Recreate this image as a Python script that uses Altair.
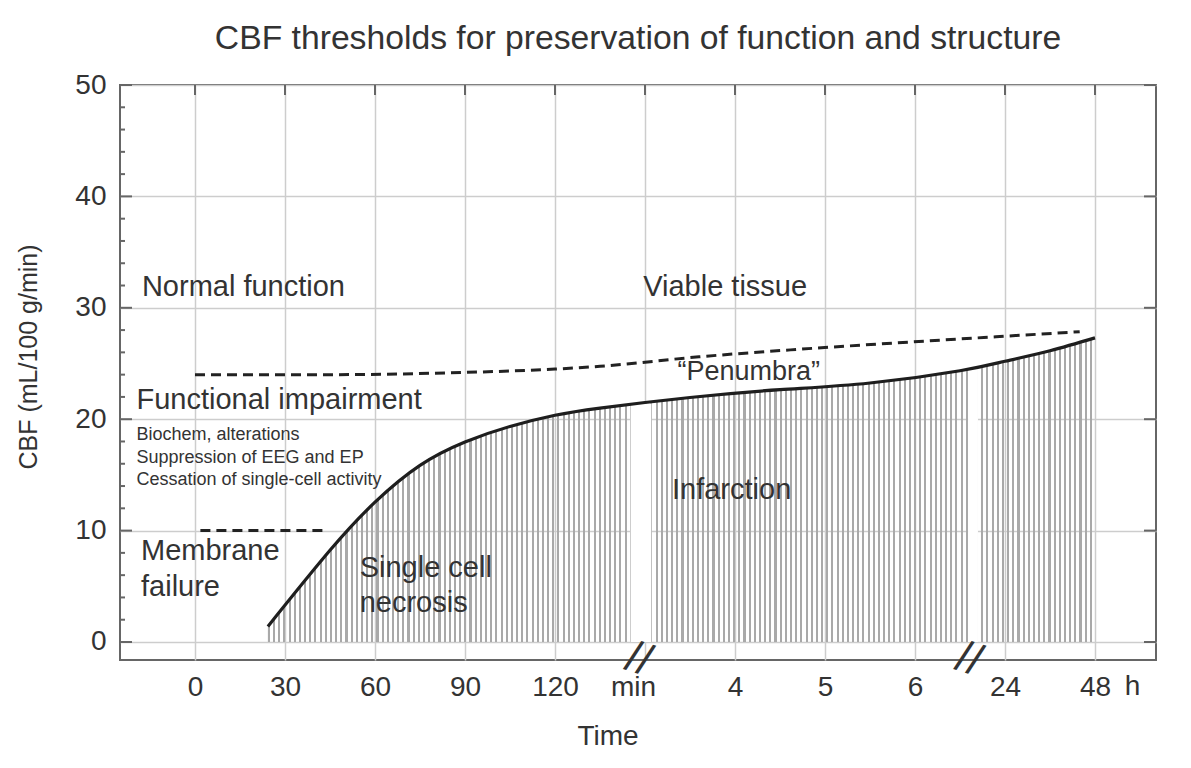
import json
import altair as alt
import pandas as pd

# ---------------- data ----------------
# x axis: equally spaced tick slots (index) and their labels
x_pos = list(range(11))
x_labels = ["0", "30", "60", "90", "120", "min", "4", "5", "6", "24", "48"]
y_ticks_major = [0, 10, 20, 30, 40, 50]
y_ticks_minor = [2, 4, 6, 8, 12, 14, 16, 18, 22, 24, 26, 28, 32, 34, 36, 38, 42, 44, 46, 48]

# solid CBF threshold curve (infarction boundary)
curve_x = [0.81, 1.5, 2.0, 2.5, 3.0, 3.5, 4.0, 4.5, 5.5, 6.5, 7.5, 8.5, 9.0, 9.5, 10.0]
curve_y = [1.4, 8.23, 12.55, 15.85, 17.95, 19.35, 20.35, 21.0, 21.95, 22.65, 23.25, 24.35, 25.2, 26.15, 27.3]

# upper dashed threshold (functional impairment / penumbra)
upper_x = [0.0, 1.5, 3.0, 4.0, 4.5, 5.6, 6.7, 7.8, 8.9, 9.83]
upper_y = [24.0, 24.0, 24.2, 24.5, 24.75, 25.6, 26.27, 26.85, 27.4, 27.85]

# short dashed membrane-failure threshold
membrane_x = [0.06, 1.47]
membrane_y = [10.0, 10.0]

# white breaks in the hatched area (axis breaks)
gap_start = [4.84, 8.59]
gap_end = [5.07, 8.70]
gap_top = [21.4, 24.5]
break_x = [4.93, 8.6]

# annotation texts
ann_text = ["Normal function", "Viable tissue", "Functional impairment",
            "Biochem, alterations", "Suppression of EEG and EP",
            "Cessation of single-cell activity", "Membrane", "failure",
            "Single cell", "necrosis", "Infarction", "\u201cPenumbra\u201d", "h"]
ann_x = [-0.59, 4.98, -0.65, -0.65, -0.65, -0.65, -0.60, -0.60, 1.83, 1.83, 5.30, 5.36, 10.33]
ann_y = [31.06, 31.06, 20.92, 18.13, 16.07, 14.09, 7.36, 4.13, 5.86, 2.72, 12.81, 23.52, -4.77]
ann_size = [29, 29, 29, 18, 18, 18, 29, 29, 29, 29, 29, 27, 28]

# ---------------- styling ----------------
FONT = "Liberation Sans, Arial, Helvetica, sans-serif"
TXT = "#333333"
W, H = 1036, 575
XDOM = [-0.8333, 10.678]
YDOM = [-1.616, 50]
xs = alt.Scale(domain=XDOM, nice=False, zero=False)
ys = alt.Scale(domain=YDOM, nice=False, zero=False)

curve_df = pd.DataFrame({"x": curve_x, "y": curve_y})
upper_df = pd.DataFrame({"x": upper_x, "y": upper_y})
memb_df = pd.DataFrame({"x": membrane_x, "y": membrane_y})
gap_df = pd.DataFrame({"x": gap_start, "x2": gap_end, "y": gap_top})
break_df = pd.DataFrame({"x": break_x, "y": [YDOM[0]] * len(break_x)})
ann_df = pd.DataFrame({"t": ann_text, "x": ann_x, "y": ann_y, "s": ann_size})
ymaj_df = pd.DataFrame({"y": y_ticks_major})
ymin_df = pd.DataFrame({"y": y_ticks_minor})
xt_df = pd.DataFrame({"x": x_pos})

# striped (hatched) fill as a horizontal gradient
N = 160
STRIPE = "#a9a9a9"
CLEAR = "rgba(255,255,255,0)"
stops = []
for k in range(N):
    a, b, c = k / N, (k + 0.4) / N, (k + 1) / N
    stops += [{"offset": a, "color": STRIPE}, {"offset": b, "color": STRIPE},
              {"offset": b, "color": CLEAR}, {"offset": c, "color": CLEAR}]
hatch = {"gradient": "linear", "x1": 0, "x2": 1, "y1": 0, "y2": 0, "stops": stops}

label_expr = json.dumps(x_labels) + "[datum.value]"

x_axis = alt.Axis(values=x_pos, labelExpr=label_expr, labelFontSize=28, labelFont=FONT,
                  labelColor=TXT, labelBaseline="alphabetic", labelPadding=35,
                  labelOverlap=False, labelFlush=False,
                  labelOffset={"condition": {"test": "datum.value == 5", "value": -12}, "value": 0},
                  ticks=False, tickSize=0, domain=False, grid=True, gridColor="#cdcdcd",
                  gridWidth=1.5, title="Time", titleFontSize=28, titleFont=FONT,
                  titleFontWeight="normal", titleColor=TXT, titleX=487.5, titleY=84,
                  titleBaseline="alphabetic")
y_axis = alt.Axis(values=y_ticks_major, labelFontSize=28, labelFont=FONT, labelColor=TXT,
                  labelPadding=14, ticks=False, tickSize=0, domain=False, grid=True,
                  gridColor="#cdcdcd", gridWidth=1.5, title="CBF (mL/100 g/min)",
                  titleFontSize=25, titleFont=FONT, titleFontWeight="normal", titleColor=TXT,
                  titleX=-84, titleY=271.5, titleBaseline="alphabetic")


def X(f="x"):
    return alt.X(f"{f}:Q", scale=xs, axis=x_axis)


def Y(f="y"):
    return alt.Y(f"{f}:Q", scale=ys, axis=y_axis)


area = alt.Chart(curve_df).mark_area(interpolate="natural", fill=hatch).encode(
    x=X(), y=Y(), y2=alt.datum(0))

gaps = alt.Chart(gap_df).mark_rect(fill="white").encode(
    x=X(), x2="x2:Q", y=Y(), y2=alt.datum(0))

dash_kw = dict(color="#222222", strokeWidth=3, strokeDash=[10, 6])
upper = alt.Chart(upper_df).mark_line(interpolate="monotone", **dash_kw).encode(x=X(), y=Y())
memb = alt.Chart(memb_df).mark_line(**dash_kw).encode(x=X(), y=Y())

curve = alt.Chart(curve_df).mark_line(interpolate="natural", color="#1e1e1e",
                                      strokeWidth=3.2).encode(x=X(), y=Y())

tick_kw = dict(color="#666666", strokeWidth=2)
lt_major = alt.Chart(ymaj_df).mark_rule(**tick_kw).encode(
    y=Y(), x=alt.value(0), x2=alt.value(12))
lt_minor = alt.Chart(ymin_df).mark_rule(**tick_kw).encode(
    y=Y(), x=alt.value(0), x2=alt.value(5))
rt_major = alt.Chart(ymaj_df).mark_rule(**tick_kw).encode(
    y=Y(), x=alt.value(W - 12), x2=alt.value(W))
top_ticks = alt.Chart(xt_df).mark_rule(**tick_kw).encode(
    x=X(), y=alt.value(0), y2=alt.value(10))

breaks = alt.Chart(break_df).mark_text(text="//", fontSize=44, font=FONT, color="#333333",
                                       angle=18, baseline="middle", align="center").encode(
    x=X(), y=Y())

ann = alt.Chart(ann_df).mark_text(align="left", baseline="alphabetic", font=FONT,
                                  color=TXT).encode(
    x=X(), y=Y(), text="t:N", size=alt.Size("s:Q", scale=None, legend=None))

chart = alt.layer(area, gaps, upper, memb, curve, lt_major, lt_minor, rt_major, top_ticks,
                  breaks, ann).properties(
    width=W, height=H,
    title=alt.TitleParams("CBF thresholds for preservation of function and structure",
                          fontSize=33.7, font=FONT, fontWeight="normal", color=TXT,
                          anchor="middle", baseline="alphabetic", offset=-12),
    padding={"left": 112, "top": 77, "right": 27, "bottom": 90},
    autosize=alt.AutoSizeParams(type="none"),
).configure_view(stroke="#666666", strokeWidth=2)

chart.save("out.html", embed_options={"renderer": "svg", "actions": False})
